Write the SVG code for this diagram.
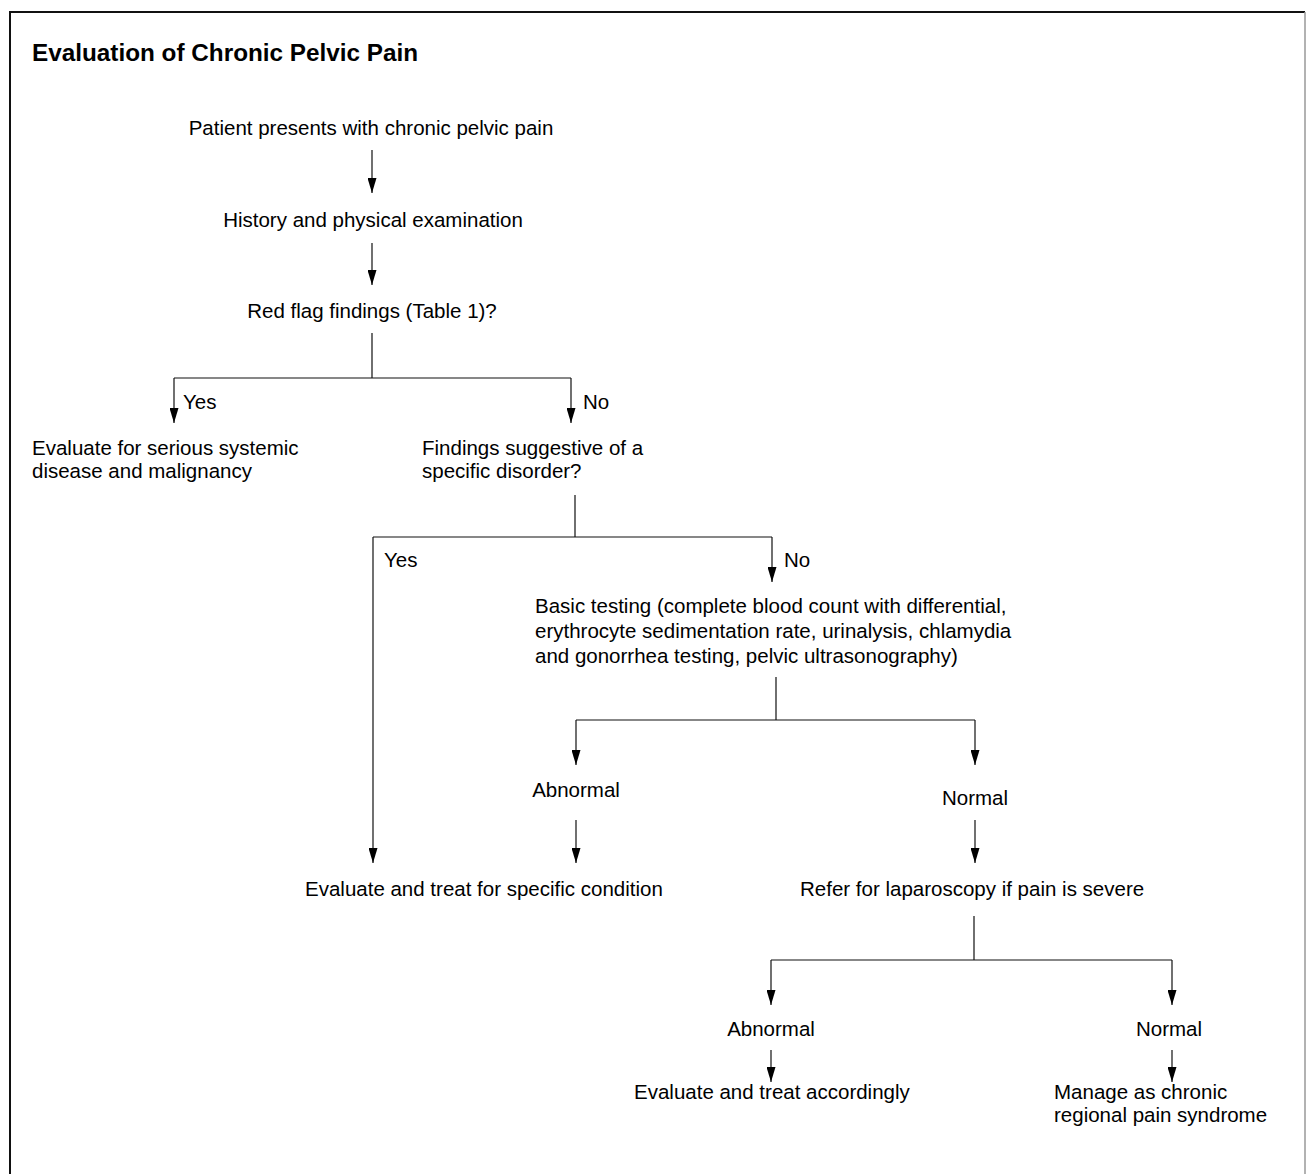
<svg xmlns="http://www.w3.org/2000/svg" width="1306" height="1174" viewBox="0 0 1306 1174">
<style>
text{font-family:"Liberation Sans",Arial,sans-serif;font-size:20.5px;fill:#000}
.title{font-weight:bold;font-size:24.3px}
.c{text-anchor:middle}
.ln{stroke:#111;stroke-width:1.2;fill:none}
.arr{stroke:#111;stroke-width:1.2;fill:none;marker-end:url(#ah)}
</style>
<defs>
<marker id="ah" markerUnits="userSpaceOnUse" markerWidth="9" markerHeight="15" viewBox="0 0 9 15" refX="4.5" refY="15" orient="0">
<path d="M0,0 L9,0 L4.5,15 Z" fill="#000"/>
</marker>
</defs>
<rect width="1306" height="1174" fill="#fff"/>
<g id="frame">
<path d="M10,1174 L10,12 L1305,12" stroke="#111" stroke-width="2" fill="none"/>
<path d="M1305,12 L1305,1174" stroke="#999" stroke-width="1.5" fill="none"/>
</g>
<text class="title" x="32" y="61">Evaluation of Chronic Pelvic Pain</text>
<g id="connectors">
<line class="arr" x1="372" y1="150" x2="372" y2="193"/>
<line class="arr" x1="372" y1="243" x2="372" y2="285"/>
<path class="ln" d="M372,333 L372,378 M174,378 L571,378"/>
<line class="arr" x1="174" y1="378" x2="174" y2="423"/>
<line class="arr" x1="571" y1="378" x2="571" y2="423"/>
<path class="ln" d="M575,495 L575,537 M373,537 L772,537"/>
<line class="arr" x1="373" y1="537" x2="373" y2="863"/>
<line class="arr" x1="772" y1="537" x2="772" y2="582"/>
<path class="ln" d="M776,677 L776,720 M576,720 L975,720"/>
<line class="arr" x1="576" y1="720" x2="576" y2="765"/>
<line class="arr" x1="975" y1="720" x2="975" y2="765"/>
<line class="arr" x1="576" y1="820" x2="576" y2="863"/>
<line class="arr" x1="975" y1="820" x2="975" y2="863"/>
<path class="ln" d="M974,916 L974,960 M771,960 L1172,960"/>
<line class="arr" x1="771" y1="960" x2="771" y2="1005"/>
<line class="arr" x1="1172" y1="960" x2="1172" y2="1005"/>
<line class="arr" x1="771" y1="1050" x2="771" y2="1082"/>
<line class="arr" x1="1172" y1="1050" x2="1172" y2="1082"/>
</g>
<g id="n-start"><text class="c" x="371" y="135">Patient presents with chronic pelvic pain</text></g>
<g id="n-history"><text class="c" x="373" y="227">History and physical examination</text></g>
<g id="n-redflag"><text class="c" x="372" y="318">Red flag findings (Table 1)?</text></g>
<g id="lbl-yes1"><text x="183" y="409">Yes</text></g>
<g id="lbl-no1"><text x="583" y="409">No</text></g>
<g id="n-serious"><text x="32" y="455">Evaluate for serious systemic</text><text x="32" y="478">disease and malignancy</text></g>
<g id="n-findings"><text x="422" y="455">Findings suggestive of a</text><text x="422" y="478">specific disorder?</text></g>
<g id="lbl-yes2"><text x="384" y="567">Yes</text></g>
<g id="lbl-no2"><text x="784" y="567">No</text></g>
<g id="n-basic"><text x="535" y="613">Basic testing (complete blood count with differential,</text><text x="535" y="638">erythrocyte sedimentation rate, urinalysis, chlamydia</text><text x="535" y="663">and gonorrhea testing, pelvic ultrasonography)</text></g>
<g id="n-abn1"><text class="c" x="576" y="797">Abnormal</text></g>
<g id="n-norm1"><text class="c" x="975" y="805">Normal</text></g>
<g id="n-specific"><text x="305" y="896">Evaluate and treat for specific condition</text></g>
<g id="n-lap"><text x="800" y="896">Refer for laparoscopy if pain is severe</text></g>
<g id="n-abn2"><text class="c" x="771" y="1036">Abnormal</text></g>
<g id="n-norm2"><text class="c" x="1169" y="1036">Normal</text></g>
<g id="n-accord"><text x="634" y="1099">Evaluate and treat accordingly</text></g>
<g id="n-manage"><text x="1054" y="1099">Manage as chronic</text><text x="1054" y="1122">regional pain syndrome</text></g>
</svg>
